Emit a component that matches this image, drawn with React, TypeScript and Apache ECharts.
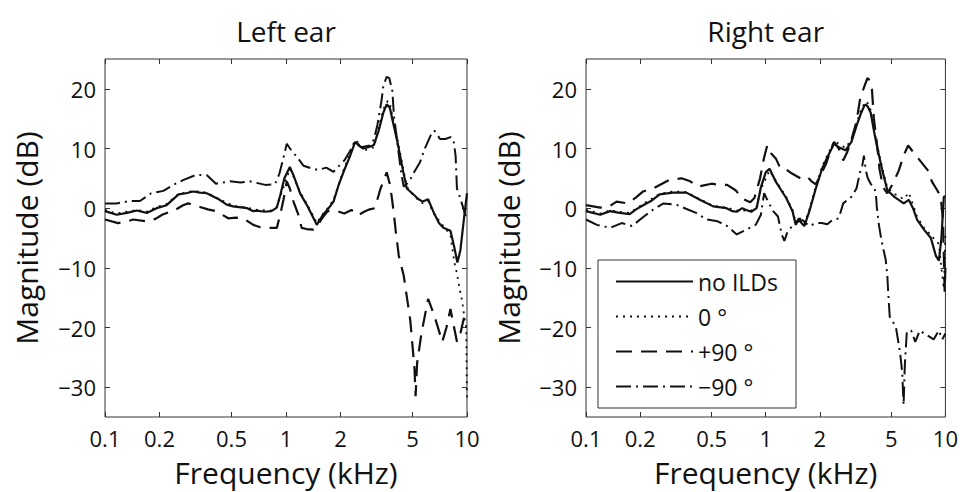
import React, { useEffect, useRef } from 'react';
import * as echarts from 'echarts';

const freqTicks = [0.1, 0.2, 0.5, 1, 2, 5, 10];
const dbTicks = [-30, -20, -10, 0, 10, 20];
const seriesNames = ['no ILDs', '0 °', '+90 °', '−90 °'];
const panelTitles = ['Left ear', 'Right ear'];
const xTitle = 'Frequency (kHz)';
const yTitle = 'Magnitude (dB)';

// Left ear
const leftNoIld = [[0.1,-0.5],[0.116,-1.1],[0.132,-0.8],[0.15,-0.4],[0.17,-0.8],[0.193,0],[0.219,0.5],[0.255,2.3],[0.28,2.5],[0.308,2.8],[0.335,2.6],[0.365,2.5],[0.43,1.4],[0.47,0.6],[0.51,0.3],[0.61,0],[0.66,-0.5],[0.69,-0.4],[0.76,-0.6],[0.83,-0.5],[0.89,0.1],[0.93,2.2],[0.98,5.0],[1.05,6.9],[1.1,5.5],[1.2,2.4],[1.3,0.6],[1.42,-1.7],[1.48,-2.8],[1.54,-1.9],[1.61,-1.0],[1.7,-0.2],[1.83,1.1],[1.95,3.8],[2.08,6.1],[2.25,8.6],[2.41,11.1],[2.55,10.4],[2.68,10.0],[2.9,10.3],[3.06,10.6],[3.25,13.0],[3.45,16.0],[3.6,17.4],[3.75,16.8],[3.9,14.4],[4.1,11.5],[4.27,8.8],[4.45,6],[4.65,3.3],[5.1,2.2],[5.4,1.5],[5.7,1.1],[6.1,1.5],[6.5,-0.5],[7.0,-2.5],[7.4,-3.3],[8.1,-3.8],[8.5,-6.5],[8.85,-9.1],[9.2,-7],[9.6,-2],[10,2.5]];
const leftZero = [[0.1,-0.3],[0.116,-0.9],[0.132,-0.6],[0.15,-0.3],[0.17,-0.6],[0.193,0.2],[0.219,0.7],[0.255,2.4],[0.308,2.9],[0.365,2.6],[0.43,1.5],[0.51,0.4],[0.61,0.1],[0.69,-0.3],[0.83,-0.4],[0.89,0.2],[0.93,2.0],[1.05,6.6],[1.1,5.3],[1.2,2.6],[1.3,0.8],[1.42,-1.4],[1.48,-2.5],[1.54,-1.6],[1.7,0],[1.83,1.4],[2.08,6.4],[2.41,11.4],[2.55,10.8],[2.68,9.6],[2.9,10.0],[3.06,10.2],[3.25,13.5],[3.45,16.6],[3.65,18.0],[3.75,17.5],[3.9,15],[4.1,12],[4.27,9.2],[4.65,3.6],[5.1,2.0],[5.7,0.8],[6.1,1.2],[6.5,-0.8],[7.4,-3.0],[8.1,-4.5],[8.5,-9],[8.8,-11],[9.1,-13.5],[9.4,-15.5],[9.7,-18.5],[9.9,-20],[10,-32]];
const leftPlus90 = [[0.1,-1.9],[0.118,-2.5],[0.13,-2.3],[0.143,-1.9],[0.17,-2.2],[0.19,-1.8],[0.207,-1.1],[0.244,-0.3],[0.27,0.5],[0.288,0.8],[0.335,0.2],[0.37,-0.2],[0.41,-0.5],[0.48,-1.7],[0.53,-1.6],[0.58,-1.7],[0.66,-2.8],[0.72,-3.2],[0.77,-3.3],[0.89,-3.3],[0.93,-1.0],[0.97,1.5],[1.01,4.5],[1.05,3.3],[1.1,1.1],[1.17,-1.1],[1.22,-3.3],[1.3,-3.5],[1.42,-3.6],[1.5,-2.8],[1.6,-1.5],[1.7,-0.5],[1.92,-0.5],[2.1,-0.9],[2.3,-0.3],[2.5,-1.2],[2.7,-0.6],[2.9,-0.2],[3.1,0],[3.2,1.5],[3.33,3.3],[3.45,4.5],[3.6,6],[3.75,4],[3.85,1.6],[3.95,-1.1],[4.03,-3.6],[4.2,-8],[4.47,-11.3],[4.86,-18.8],[5.13,-27],[5.2,-31.5],[5.3,-26],[5.6,-21],[6.1,-15.2],[6.6,-18],[7.3,-22.4],[7.7,-20],[8.1,-16.9],[8.8,-22.4],[9.2,-21],[9.6,-18.5],[10,-17]];
const leftMinus90 = [[0.1,0.8],[0.116,0.8],[0.137,1.2],[0.156,1.2],[0.18,2.5],[0.21,2.9],[0.238,3.9],[0.27,4.7],[0.32,5.6],[0.366,5.5],[0.41,4.1],[0.49,4.5],[0.56,4.3],[0.63,4.5],[0.77,3.9],[0.87,4.0],[0.92,5.8],[0.96,8.0],[1.01,10.8],[1.08,9.5],[1.15,8.6],[1.25,7.1],[1.37,6.7],[1.5,6.4],[1.67,6.8],[1.83,6.1],[1.95,7.0],[2.1,8.0],[2.25,9.5],[2.41,11.3],[2.6,10.2],[2.9,10.5],[3.06,11.5],[3.2,14],[3.37,18],[3.45,20.5],[3.6,22],[3.72,21.8],[3.87,19.6],[3.95,15.4],[4.05,12.9],[4.2,9],[4.35,5.5],[4.47,3.6],[4.8,4.5],[5.1,6.0],[5.5,7.7],[5.85,10.0],[6.3,12.2],[6.6,13.0],[7.1,11.6],[7.6,11.6],[8.1,11.9],[8.4,11.6],[8.65,8.8],[8.8,3.3],[9.2,1.6],[9.6,-0.3],[10,-2]];

// Right ear
const rightNoIld = [[0.1,-0.5],[0.12,-1.1],[0.136,-0.5],[0.154,-0.8],[0.175,-1.0],[0.19,-0.2],[0.208,0.5],[0.23,1.2],[0.257,2.3],[0.305,2.6],[0.362,2.6],[0.43,1.4],[0.51,0.3],[0.605,0],[0.65,-0.5],[0.69,-0.6],[0.74,0],[0.78,-0.3],[0.83,-0.6],[0.89,0],[0.94,3.5],[1.0,6.0],[1.05,6.6],[1.14,4.4],[1.22,3.0],[1.3,1.7],[1.41,-0.5],[1.47,-2.8],[1.53,-1.7],[1.58,-2.5],[1.64,-3.0],[1.75,-0.5],[1.9,3.3],[2.06,6.6],[2.2,8.5],[2.4,10.8],[2.55,10.2],[2.78,9.7],[3.0,11.1],[3.2,13.8],[3.4,16],[3.53,17.1],[3.6,17.4],[3.7,17.0],[3.84,16],[4.0,13],[4.17,10.2],[4.45,6.4],[4.75,3.0],[5.2,1.9],[5.86,0.8],[6.25,1.4],[6.6,0],[6.95,-1.9],[7.6,-3.6],[8.3,-5],[8.85,-8],[9.2,-8.8],[9.5,-5],[9.8,1.9],[10,2]];
const rightZero = [[0.1,-0.3],[0.12,-0.9],[0.136,-0.4],[0.154,-0.6],[0.175,-0.8],[0.208,0.7],[0.257,2.4],[0.305,2.8],[0.362,2.7],[0.43,1.5],[0.51,0.4],[0.605,0.1],[0.69,-0.4],[0.83,-0.4],[0.89,0.3],[0.94,3.2],[1.05,6.3],[1.14,4.6],[1.3,1.9],[1.41,-0.3],[1.47,-2.4],[1.53,-1.5],[1.64,-2.6],[1.75,-0.2],[1.9,3.6],[2.06,7.0],[2.4,11.2],[2.55,10.8],[2.78,10.1],[3.0,11.5],[3.2,14.2],[3.4,16.6],[3.6,17.9],[3.7,17.6],[3.84,16.4],[4.0,13.2],[4.17,10.6],[4.45,6.8],[4.75,3.4],[5.2,2.4],[5.86,1.5],[6.25,2.6],[6.6,0.6],[6.95,-1.4],[7.6,-3.3],[8.3,-4.5],[8.85,-5.5],[9.2,-6],[9.5,-10],[9.8,-13.5],[10,-4]];
const rightPlus90 = [[0.1,0.5],[0.12,0.1],[0.135,0.3],[0.148,1.1],[0.17,0.8],[0.19,1.8],[0.208,2.8],[0.24,3.4],[0.29,4.7],[0.34,5.0],[0.38,4.5],[0.42,3.6],[0.5,4.1],[0.56,3.9],[0.61,3.9],[0.68,3.0],[0.75,1.5],[0.82,1.0],[0.865,1.7],[0.93,5],[0.98,8.5],[1.02,10.5],[1.07,9.2],[1.14,8.3],[1.21,6.6],[1.3,6.5],[1.4,5.8],[1.56,5.0],[1.7,5.3],[1.8,4.5],[1.9,4.0],[2.0,5.3],[2.17,7.5],[2.3,9.7],[2.4,11.1],[2.55,10.0],[2.7,8.0],[2.85,9.5],[3.0,11.5],[3.2,14.5],[3.37,18.8],[3.5,20],[3.68,21.8],[3.75,21.6],[3.9,19.9],[4.0,15],[4.17,10.5],[4.3,6.5],[4.5,3.5],[4.75,2.5],[5.1,4.1],[5.5,6.3],[5.85,8.8],[6.2,10.5],[6.5,9.7],[7.3,7.8],[8.1,6.1],[8.4,4.5],[9.0,3.0],[9.4,2.0],[9.7,-2],[9.8,-8],[9.9,-14],[10,-10]];
const rightMinus90 = [[0.1,-1.9],[0.115,-2.8],[0.136,-3.3],[0.158,-2.5],[0.18,-3.0],[0.21,-1.4],[0.235,-0.3],[0.27,0.8],[0.32,0.55],[0.36,-0.1],[0.41,-0.8],[0.47,-1.9],[0.54,-2.2],[0.61,-3.0],[0.69,-4.4],[0.78,-3.6],[0.88,-2.8],[0.94,-1.1],[0.98,2.5],[1.02,1.4],[1.1,-0.5],[1.17,-1.4],[1.23,-4.5],[1.27,-5.5],[1.32,-4.0],[1.45,-2.5],[1.6,-2.0],[1.75,-3.0],[1.9,-2.5],[2.05,-2.5],[2.2,-2.7],[2.35,-2.0],[2.55,-1.7],[2.7,0.8],[3.0,1.9],[3.2,3.3],[3.35,6],[3.45,7.2],[3.52,8.8],[3.6,6.4],[3.7,5],[3.85,4],[4.0,3.6],[4.1,2.5],[4.15,0.3],[4.25,-2.5],[4.4,-5.3],[4.65,-8.6],[4.75,-11.3],[4.8,-14],[4.9,-18.2],[5.3,-19.9],[5.6,-24.3],[5.75,-27.6],[5.85,-33],[5.95,-26],[6.1,-20.7],[6.45,-20.5],[6.8,-22.4],[7.2,-20.5],[7.6,-21],[8.1,-21.5],[8.6,-22],[9.2,-20.5],[9.6,-22],[10,-21]];

const panelData = [
  [leftNoIld, leftZero, leftPlus90, leftMinus90],
  [rightNoIld, rightZero, rightPlus90, rightMinus90],
];

const FONT = 'Open Sans';
const INK = '#111';

const lineStyles: any[] = [
  { type: 'solid', width: 2.2 },
  { type: [2, 5], width: 1.8 },
  { type: [16, 9], width: 2.2 },
  { type: [15, 5, 2, 5], width: 2 },
];

const grids = [
  { left: 105, top: 59, width: 362, height: 361 },
  { left: 586, top: 59, width: 361, height: 361 },
];
const yNameGaps = [64, 63];

const fmtFreq = (v: number) => String(+Number(v).toPrecision(3));
const fmtDb = (v: number) => (v < 0 ? '\u2212' + String(-v) : String(v));

export default function App() {
  const ref = useRef<HTMLDivElement>(null);
  useEffect(() => {
    if (!ref.current) return;
    const chart = echarts.init(ref.current, undefined, { renderer: 'svg' });
    const xAxes: any[] = [];
    const yAxes: any[] = [];
    const series: any[] = [];
    grids.forEach((g, i) => {
      const tickCommon = { show: true, inside: true, length: 5, lineStyle: { color: '#333', width: 1 } };
      xAxes.push({
        type: 'log', logBase: 10, gridIndex: i, position: 'bottom', min: 0.1, max: 10,
        name: xTitle, nameLocation: 'middle', nameGap: 40,
        nameTextStyle: { fontSize: 30, lineHeight: 30, color: INK, fontFamily: FONT },
        axisLine: { show: false, onZero: false },
        axisTick: { ...tickCommon, customValues: freqTicks },
        axisLabel: { show: true, customValues: freqTicks, formatter: fmtFreq, fontSize: 22, lineHeight: 22, color: INK, fontFamily: FONT, margin: 10 },
        splitLine: { show: false }, minorTick: { show: false },
      });
      xAxes.push({
        type: 'log', logBase: 10, gridIndex: i, position: 'top', min: 0.1, max: 10,
        name: panelTitles[i], nameLocation: 'middle', nameGap: 14,
        nameTextStyle: { fontSize: 28, color: INK, fontFamily: FONT },
        axisLine: { show: false, onZero: false },
        axisTick: { ...tickCommon, customValues: freqTicks },
        axisLabel: { show: false },
        splitLine: { show: false },
      });
      yAxes.push({
        type: 'value', gridIndex: i, position: 'left', min: -35, max: 25,
        name: yTitle, nameLocation: 'middle', nameGap: yNameGaps[i],
        nameTextStyle: { fontSize: 30, lineHeight: 30, color: INK, fontFamily: FONT },
        axisLine: { show: false, onZero: false },
        axisTick: { ...tickCommon, customValues: dbTicks },
        axisLabel: { show: true, customValues: dbTicks, formatter: fmtDb, fontSize: 22, lineHeight: 22, color: INK, fontFamily: FONT, margin: 9 },
        splitLine: { show: false },
      });
      yAxes.push({
        type: 'value', gridIndex: i, position: 'right', min: -35, max: 25,
        axisLine: { show: false, onZero: false },
        axisTick: { ...tickCommon, customValues: dbTicks },
        axisLabel: { show: false },
        splitLine: { show: false },
      });
      panelData[i].forEach((data, k) => {
        series.push({
          type: 'line', name: seriesNames[k], xAxisIndex: 2 * i, yAxisIndex: 2 * i,
          data, symbol: 'none', showSymbol: false, silent: true, clip: true,
          lineStyle: { color: INK, ...lineStyles[k] },
          itemStyle: { color: INK },
        });
      });
    });
    chart.setOption({
      animation: false,
      textStyle: { fontFamily: FONT },
      grid: grids.map((g) => ({ ...g, show: true, borderColor: '#333', borderWidth: 1, backgroundColor: 'transparent' })),
      xAxis: xAxes,
      yAxis: yAxes,
      legend: {
        data: seriesNames, orient: 'vertical', left: 598, top: 260,
        backgroundColor: '#fff', borderColor: '#333', borderWidth: 1,
        padding: [10, 18, 10, 17], itemGap: 12, itemWidth: 77, itemHeight: 14,
        selectedMode: false,
        itemStyle: { color: 'transparent', borderWidth: 0, opacity: 0 },
        textStyle: { fontSize: 23, color: INK, fontFamily: FONT },
      },
      series,
    });
    return () => chart.dispose();
  }, []);
  return <div ref={ref} style={{ position: 'fixed', left: 0, top: 0, width: 961, height: 492, background: '#fff' }} />;
}
